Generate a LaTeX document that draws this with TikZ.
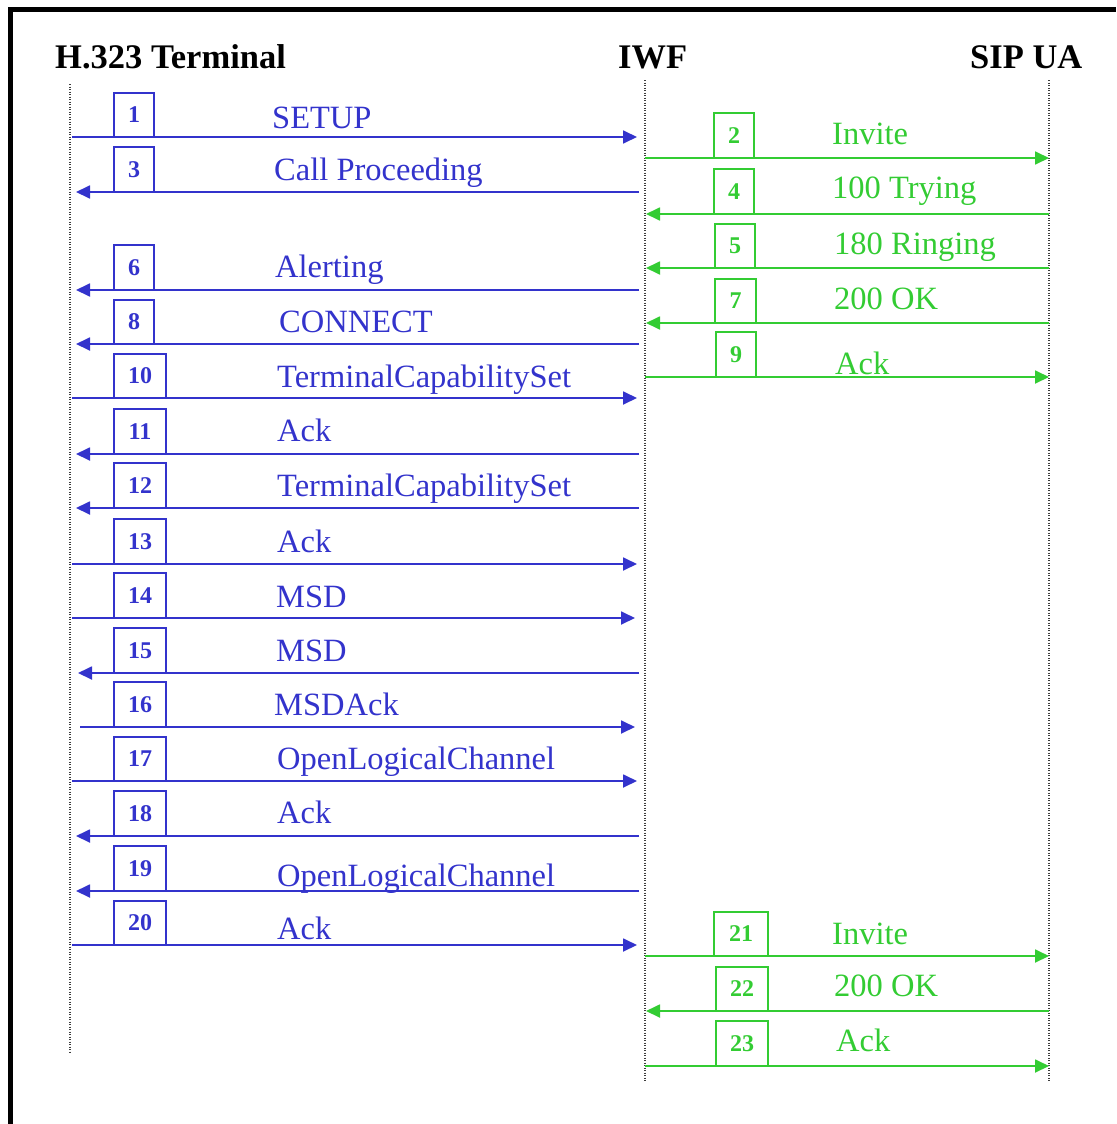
\documentclass[tikz,border=0pt]{standalone}
\usepackage{fontspec}
\setmainfont{Liberation Serif}
\usetikzlibrary{arrows.meta}
\definecolor{mblue}{RGB}{51,51,204}
\definecolor{mgreen}{RGB}{51,204,51}
\definecolor{lifegray}{RGB}{60,60,60}
\newcommand\lblfont{\fontsize{32.5}{32.5}\selectfont}
\newcommand\numfont{\fontsize{24}{24}\selectfont\bfseries}
\newcommand\ttlfont{\fontsize{34.5}{34.5}\selectfont\bfseries}
\newcommand\msgarrow[5]{% id, y, xfrom, xto, style
  \coordinate (f#1) at (#3,#2);
  \coordinate (t#1) at (#4,#2);
  \draw[#5] (f#1) -- (t#1);}
\newcommand\msgbox[6]{% id, left, right, top, bottom, colour
  \node[numbox, draw=#6, text=#6, minimum width={#3pt-#2pt}, minimum height={#5pt-#4pt}]
    (b#1) at ({(#2+#3)/2},{(#4+#5)/2}) {#1};}
\newcommand\msglabel[5]{% id, x, baseline, text, colour
  \node[lbl, text=#5] (l#1) at (#2,#3) {#4};}
\tikzset{
  numbox/.style={draw, line width=1.6pt, inner sep=0pt, font=\numfont},
  lbl/.style={anchor=base west, inner sep=0pt, font=\lblfont},
  ttl/.style={anchor=base west, inner sep=0pt, font=\ttlfont, text=black},
  barr/.style={draw=mblue, line width=1.8pt, -{Triangle[length=14pt,width=13pt]}},
  garr/.style={draw=mgreen, line width=1.8pt, -{Triangle[length=14pt,width=13pt]}},
  lifeline/.style={draw=lifegray, line width=2pt, dash pattern=on 1.4pt off 1.1pt},
}
\begin{document}
\begin{tikzpicture}[x=1pt,y=-1pt]
\useasboundingbox (0,0) rectangle (1116,1124);
\fill[white] (0,0) rectangle (1116,1124);
% frame
\fill[black] (8,7) rectangle (1116,12);
\fill[black] (8,7) rectangle (13,1124);
% titles
\node[ttl] (hT) at (55,68) {H.323 Terminal};
\node[ttl] (iT) at (618,68) {IWF};
\node[ttl] (sT) at (970,68) {SIP UA};
% lifelines
\coordinate (htop) at (70,84);  \coordinate (hbot) at (70,1052);
\coordinate (itop) at (645,80); \coordinate (ibot) at (645,1082);
\coordinate (stop) at (1049,80); \coordinate (sbot) at (1049,1082);
\draw[lifeline] (htop) -- (hbot);
\draw[lifeline] (itop) -- (ibot);
\draw[lifeline] (stop) -- (sbot);
% ---- blue messages (H.323 <-> IWF)
\msgarrow{1}{137}{72}{637}{barr}   \msgbox{1}{114}{154}{93}{137}{mblue}   \msglabel{1}{272}{128}{SETUP}{mblue}
\msgarrow{3}{192}{639}{76}{barr}   \msgbox{3}{114}{154}{147}{192}{mblue}  \msglabel{3}{274}{180}{Call Proceeding}{mblue}
\msgarrow{6}{290}{639}{76}{barr}   \msgbox{6}{114}{154}{245}{290}{mblue}  \msglabel{6}{275}{277}{Alerting}{mblue}
\msgarrow{8}{344}{639}{76}{barr}   \msgbox{8}{114}{154}{300}{344}{mblue}  \msglabel{8}{279}{332}{CONNECT}{mblue}
\msgarrow{10}{398}{72}{637}{barr}  \msgbox{10}{114}{166}{354}{398}{mblue} \msglabel{10}{277}{387}{TerminalCapabilitySet}{mblue}
\msgarrow{11}{454}{639}{76}{barr}  \msgbox{11}{114}{166}{409}{454}{mblue} \msglabel{11}{277}{441}{Ack}{mblue}
\msgarrow{12}{508}{639}{76}{barr}  \msgbox{12}{114}{166}{463}{508}{mblue} \msglabel{12}{277}{496}{TerminalCapabilitySet}{mblue}
\msgarrow{13}{564}{72}{637}{barr}  \msgbox{13}{114}{166}{519}{564}{mblue} \msglabel{13}{277}{552}{Ack}{mblue}
\msgarrow{14}{618}{72}{635}{barr}  \msgbox{14}{114}{166}{573}{618}{mblue} \msglabel{14}{276}{607}{MSD}{mblue}
\msgarrow{15}{673}{639}{78}{barr}  \msgbox{15}{114}{166}{628}{673}{mblue} \msglabel{15}{276}{661}{MSD}{mblue}
\msgarrow{16}{727}{80}{635}{barr}  \msgbox{16}{114}{166}{682}{727}{mblue} \msglabel{16}{274}{715}{MSDAck}{mblue}
\msgarrow{17}{781}{72}{637}{barr}  \msgbox{17}{114}{166}{737}{781}{mblue} \msglabel{17}{277}{769}{OpenLogicalChannel}{mblue}
\msgarrow{18}{836}{639}{76}{barr}  \msgbox{18}{114}{166}{791}{836}{mblue} \msglabel{18}{277}{823}{Ack}{mblue}
\msgarrow{19}{891}{639}{76}{barr}  \msgbox{19}{114}{166}{846}{891}{mblue} \msglabel{19}{277}{886}{OpenLogicalChannel}{mblue}
\msgarrow{20}{945}{72}{637}{barr}  \msgbox{20}{114}{166}{901}{945}{mblue} \msglabel{20}{277}{939}{Ack}{mblue}
% ---- green messages (IWF <-> SIP UA)
\msgarrow{2}{158}{645}{1049}{garr}  \msgbox{2}{714}{754}{113}{158}{mgreen}   \msglabel{2}{832}{144}{Invite}{mgreen}
\msgarrow{4}{214}{1049}{646}{garr}  \msgbox{4}{714}{754}{169}{214}{mgreen}   \msglabel{4}{832}{198}{100 Trying}{mgreen}
\msgarrow{5}{268}{1049}{646}{garr}  \msgbox{5}{715}{755}{224}{268}{mgreen}   \msglabel{5}{834}{254}{180 Ringing}{mgreen}
\msgarrow{7}{323}{1049}{646}{garr}  \msgbox{7}{715}{756}{279}{323}{mgreen}   \msglabel{7}{834}{309}{200 OK}{mgreen}
\msgarrow{9}{377}{645}{1049}{garr}  \msgbox{9}{716}{756}{332}{377}{mgreen}   \msglabel{9}{835}{374}{Ack}{mgreen}
\msgarrow{21}{956}{645}{1049}{garr} \msgbox{21}{714}{768}{912}{956}{mgreen}  \msglabel{21}{832}{944}{Invite}{mgreen}
\msgarrow{22}{1011}{1049}{646}{garr} \msgbox{22}{716}{768}{967}{1011}{mgreen} \msglabel{22}{834}{996}{200 OK}{mgreen}
\msgarrow{23}{1066}{645}{1049}{garr} \msgbox{23}{716}{768}{1021}{1066}{mgreen} \msglabel{23}{836}{1051}{Ack}{mgreen}
\end{tikzpicture}
\end{document}
